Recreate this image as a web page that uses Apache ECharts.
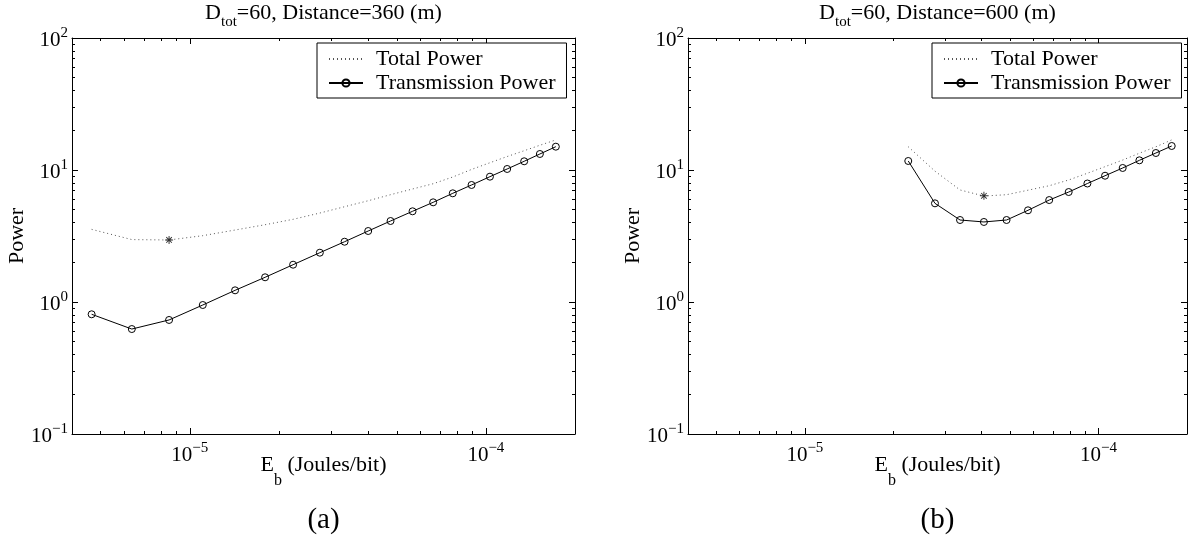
<!DOCTYPE html>
<html>
<head>
<meta charset="utf-8">
<script src="https://cdn.jsdelivr.net/npm/echarts@6/dist/echarts.min.js"></script>
<style>
  html, body { margin: 0; padding: 0; background: #fff; }
  #chart { width: 1198px; height: 556px; }
</style>
</head>
<body>
<div id="chart"></div>
<script>
// Panel (a): D_tot = 60, distance 360 m
const ebA = [4.66e-6, 6.37e-6, 8.51e-6, 1.106e-5, 1.422e-5, 1.796e-5, 2.233e-5, 2.749e-5, 3.332e-5, 4.004e-5,
             4.764e-5, 5.654e-5, 6.637e-5, 7.73e-5, 8.946e-5, 1.032e-4, 1.18e-4, 1.347e-4, 1.522e-4, 1.723e-4];
const transA = [0.807, 0.624, 0.731, 0.949, 1.226, 1.539, 1.917, 2.363, 2.862, 3.45,
                4.107, 4.866, 5.69, 6.66, 7.70, 8.90, 10.18, 11.64, 13.22, 15.02];
const totalA = [3.55, 2.97, 2.95, 3.18, 3.51, 3.85, 4.23, 4.72, 5.27, 5.85,
                6.50, 7.18, 7.87, 8.85, 10.1, 11.35, 12.65, 14.0, 15.4, 16.9];
const minA = [8.51e-6, 2.95];

// Panel (b): D_tot = 60, distance 600 m
const ebB = [2.249e-5, 2.773e-5, 3.375e-5, 4.07e-5, 4.86e-5, 5.75e-5, 6.79e-5, 7.91e-5, 9.16e-5, 1.052e-4,
             1.208e-4, 1.377e-4, 1.567e-4, 1.774e-4];
const transB = [11.70, 5.59, 4.18, 4.04, 4.18, 4.95, 5.92, 6.81, 7.90, 9.05, 10.36, 11.84, 13.45, 15.20];
const totalB = [15.0, 9.8, 7.06, 6.35, 6.5, 7.03, 7.6, 8.4, 9.45, 10.6, 11.9, 13.4, 15.0, 16.9];
const minB = [4.07e-5, 6.38];

// Axis ranges and tick positions
const xRange = [4e-6, 2e-4];
const yRange = [0.1, 100];
const xMajor = [1e-5, 1e-4];
const xMinor = [5e-6, 6e-6, 7e-6, 8e-6, 9e-6, 2e-5, 3e-5, 4e-5, 5e-5, 6e-5, 7e-5, 8e-5, 9e-5];
const yMajor = [0.1, 1, 10, 100];
const yMinor = [0.2, 0.3, 0.4, 0.5, 0.6, 0.7, 0.8, 0.9, 2, 3, 4, 5, 6, 7, 8, 9, 20, 30, 40, 50, 60, 70, 80, 90];

const panelTitles = ['360', '600'];
const panelTags = ['(a)', '(b)'];
const seriesNames = ['Total Power', 'Transmission Power'];

const FONT = "'Liberation Serif', 'Times New Roman', serif";
const grids = [
  { left: 72, top: 38, width: 503, height: 396 },
  { left: 688, top: 38, width: 499, height: 396 }
];

// "10" with a raised exponent
const pow10Rich = {
  b: { fontSize: 21, lineHeight: 25, fontFamily: FONT, color: '#000', verticalAlign: 'bottom', padding: [4, 0, 0, 0] },
  e: { fontSize: 15, lineHeight: 15, fontFamily: FONT, color: '#000', verticalAlign: 'top' }
};
function pow10Label(v) {
  const exp = Math.round(Math.log10(v));
  return '{b|10}{e|' + String(exp).replace('-', '\u2212') + '}';
}

const starPath = 'path://M0,4.4H10V5.6H0Z M4.4,0H5.6V10H4.4Z M1.1,1.95L1.95,1.1L8.9,8.05L8.05,8.9Z M8.05,1.1L8.9,1.95L1.95,8.9L1.1,8.05Z';

const xAxes = [], yAxes = [], series = [], titles = [], legends = [];
const boxLine = { show: true, lineStyle: { color: '#000', width: 1 } };

grids.forEach((g, gi) => {
  const base = { type: 'log', logBase: 10, gridIndex: gi, splitLine: { show: false }, minorTick: { show: false } };
  // bottom axis: labels, name and major ticks
  xAxes.push(Object.assign({}, base, {
    min: xRange[0], max: xRange[1], position: 'bottom',
    axisLine: boxLine,
    axisTick: { show: true, inside: true, length: 6, customValues: xMajor, lineStyle: { color: '#000' } },
    axisLabel: { show: true, customValues: xMajor, formatter: pow10Label, rich: pow10Rich, margin: 7 },
    name: '{m|E}{s|b}{m| (Joules/bit)}', nameLocation: 'middle', nameGap: 20, nameMoveOverlap: false,
    nameTextStyle: {
      rich: {
        m: { fontSize: 22, lineHeight: 22, fontFamily: FONT, color: '#000', verticalAlign: 'top' },
        s: { fontSize: 16, lineHeight: 35, fontFamily: FONT, color: '#000', verticalAlign: 'bottom', padding: [19, 0, 0, 0] }
      }
    }
  }));
  const bx = xAxes.length - 1;
  // bottom minor ticks
  xAxes.push(Object.assign({}, base, {
    min: xRange[0], max: xRange[1], position: 'bottom',
    axisLine: { show: false },
    axisTick: { show: true, inside: true, length: 3, customValues: xMinor, lineStyle: { color: '#000' } },
    axisLabel: { show: false }
  }));
  // top border with mirrored ticks
  xAxes.push(Object.assign({}, base, {
    min: xRange[0], max: xRange[1], position: 'top',
    axisLine: boxLine,
    axisTick: { show: true, inside: true, length: 6, customValues: xMajor, lineStyle: { color: '#000' } },
    axisLabel: { show: false }
  }));
  xAxes.push(Object.assign({}, base, {
    min: xRange[0], max: xRange[1], position: 'top',
    axisLine: { show: false },
    axisTick: { show: true, inside: true, length: 3, customValues: xMinor, lineStyle: { color: '#000' } },
    axisLabel: { show: false }
  }));

  // left axis: labels, name and major ticks
  yAxes.push(Object.assign({}, base, {
    min: yRange[0], max: yRange[1], position: 'left',
    axisLine: boxLine,
    axisTick: { show: true, inside: true, length: 6, customValues: yMajor, lineStyle: { color: '#000' } },
    axisLabel: { show: true, customValues: yMajor, formatter: pow10Label, rich: pow10Rich, margin: 4 },
    name: 'Power', nameLocation: 'middle', nameGap: 44, nameMoveOverlap: false,
    nameTextStyle: { fontSize: 22, fontFamily: FONT, color: '#000' }
  }));
  const ly = yAxes.length - 1;
  yAxes.push(Object.assign({}, base, {
    min: yRange[0], max: yRange[1], position: 'left',
    axisLine: { show: false },
    axisTick: { show: true, inside: true, length: 3, customValues: yMinor, lineStyle: { color: '#000' } },
    axisLabel: { show: false }
  }));
  // right border with mirrored ticks
  yAxes.push(Object.assign({}, base, {
    min: yRange[0], max: yRange[1], position: 'right',
    axisLine: boxLine,
    axisTick: { show: true, inside: true, length: 6, customValues: yMajor, lineStyle: { color: '#000' } },
    axisLabel: { show: false }
  }));
  yAxes.push(Object.assign({}, base, {
    min: yRange[0], max: yRange[1], position: 'right',
    axisLine: { show: false },
    axisTick: { show: true, inside: true, length: 3, customValues: yMinor, lineStyle: { color: '#000' } },
    axisLabel: { show: false }
  }));

  const eb = gi === 0 ? ebA : ebB;
  const tr = gi === 0 ? transA : transB;
  const tot = gi === 0 ? totalA : totalB;
  const mn = gi === 0 ? minA : minB;

  series.push({
    type: 'line', name: seriesNames[0], xAxisIndex: bx, yAxisIndex: ly,
    data: eb.map((x, i) => [x, tot[i]]),
    symbol: 'none', showSymbol: false, silent: true,
    lineStyle: { color: '#555', width: 1, type: [1, 3] },
    itemStyle: { color: '#555' }, z: 2
  });
  series.push({
    type: 'line', name: seriesNames[1], xAxisIndex: bx, yAxisIndex: ly,
    data: eb.map((x, i) => [x, tr[i]]),
    symbol: 'circle', symbolSize: 7, silent: true,
    lineStyle: { color: '#000', width: 1 },
    itemStyle: { color: 'rgba(255,255,255,0)', borderColor: '#000', borderWidth: 1 }, z: 3
  });
  series.push({
    type: 'scatter', name: 'minimum', xAxisIndex: bx, yAxisIndex: ly,
    data: [mn], symbol: starPath, symbolSize: 8, silent: true,
    itemStyle: { color: '#000' }, z: 4
  });

  const cx = g.left + g.width / 2;
  titles.push({
    text: '{m|D}{s|tot}{m|=60, Distance=' + panelTitles[gi] + ' (m)}',
    left: cx, top: 2, textAlign: 'center', padding: 0,
    textStyle: {
      rich: {
        m: { fontSize: 22, lineHeight: 22, fontFamily: FONT, color: '#000', fontWeight: 'normal', verticalAlign: 'top' },
        s: { fontSize: 15, lineHeight: 28, fontFamily: FONT, color: '#000', fontWeight: 'normal', verticalAlign: 'bottom', padding: [13, 0, 0, 0] }
      }
    }
  });
  titles.push({
    text: panelTags[gi], left: cx, top: 506, textAlign: 'center', padding: 0,
    textStyle: { fontSize: 29, fontFamily: FONT, color: '#000', fontWeight: 'normal' }
  });

  legends.push({
    data: [
      { name: seriesNames[0], itemStyle: { color: 'rgba(0,0,0,0)', borderWidth: 0, opacity: 0 } },
      { name: seriesNames[1] }
    ],
    orient: 'vertical',
    left: gi === 0 ? 317 : 932, top: 43,
    padding: [5, 11, 4, 11], itemGap: 2, itemWidth: 34, itemHeight: 9,
    borderColor: '#000', borderWidth: 1, backgroundColor: '#fff',
    selectedMode: false,
    textStyle: { fontSize: 22, lineHeight: 22, fontFamily: FONT, color: '#000', padding: [0, 0, 0, 8] }
  });
});

const chart = echarts.init(document.getElementById('chart'), null, { renderer: 'canvas' });
chart.setOption({
  animation: false,
  backgroundColor: '#fff',
  title: titles,
  legend: legends,
  grid: grids.map(g => Object.assign({ outerBoundsMode: 'none', containLabel: false }, g)),
  xAxis: xAxes,
  yAxis: yAxes,
  series: series
});
</script>
</body>
</html>
